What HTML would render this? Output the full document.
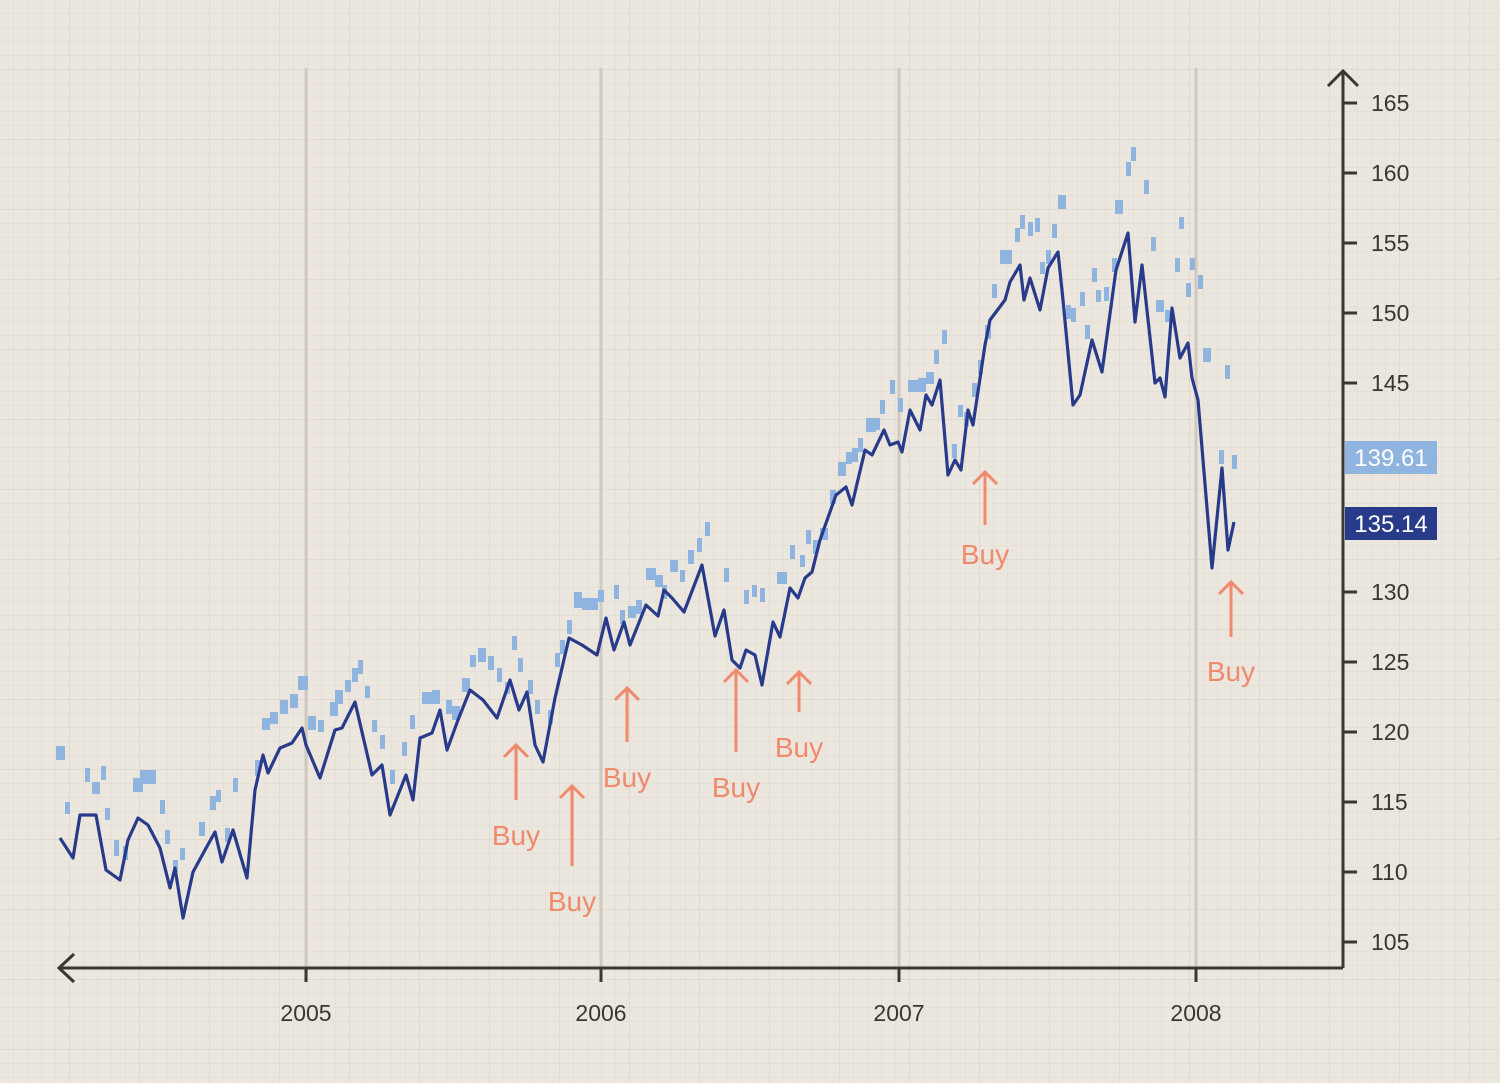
<!DOCTYPE html>
<html><head><meta charset="utf-8"><style>
html,body{margin:0;padding:0;background:#ebe6de;}
svg{display:block;}
text{font-family:"Liberation Sans",sans-serif;}
</style></head><body>
<svg width="1500" height="1083" viewBox="0 0 1500 1083" xmlns="http://www.w3.org/2000/svg">
<defs>
<pattern id="g" width="14" height="14" patternUnits="userSpaceOnUse">
<path d="M14 0V14M0 14H14" stroke="#e1dbd1" stroke-width="1" fill="none"/>
</pattern>
<pattern id="G" width="70" height="70" patternUnits="userSpaceOnUse">
<path d="M70 0V70M0 70H70" stroke="#d9d2c7" stroke-width="1.2" fill="none"/>
</pattern>
</defs>
<rect width="1500" height="1083" fill="#ebe6de"/>
<rect width="1500" height="1083" fill="url(#g)"/>
<rect width="1500" height="1083" fill="url(#G)"/>
<g stroke="#cfc9c0" stroke-width="3">
<line x1="306" y1="68" x2="306" y2="968"/><line x1="601" y1="68" x2="601" y2="968"/>
<line x1="899" y1="68" x2="899" y2="968"/><line x1="1196" y1="68" x2="1196" y2="968"/>
</g>
<g fill="#8fb4e0">
<rect x="56" y="746" width="9" height="14"/><rect x="65" y="802" width="5" height="12"/><rect x="85" y="768" width="5" height="14"/><rect x="92" y="782" width="8" height="12"/><rect x="101" y="766" width="5" height="14"/><rect x="105" y="808" width="5" height="12"/><rect x="114" y="840" width="5" height="16"/><rect x="123" y="846" width="5" height="14"/><rect x="133" y="778" width="10" height="14"/><rect x="140" y="770" width="16" height="14"/><rect x="150" y="772" width="6" height="10"/><rect x="160" y="800" width="5" height="14"/><rect x="165" y="830" width="5" height="14"/><rect x="173" y="860" width="5" height="12"/><rect x="180" y="848" width="5" height="12"/><rect x="199" y="822" width="6" height="14"/><rect x="210" y="796" width="6" height="14"/><rect x="216" y="790" width="5" height="12"/><rect x="225" y="828" width="5" height="14"/><rect x="233" y="778" width="5" height="14"/><rect x="255" y="760" width="5" height="16"/><rect x="262" y="718" width="8" height="12"/><rect x="270" y="712" width="8" height="12"/><rect x="280" y="700" width="8" height="14"/><rect x="290" y="694" width="8" height="14"/><rect x="298" y="676" width="10" height="14"/><rect x="308" y="716" width="8" height="14"/><rect x="318" y="720" width="6" height="12"/><rect x="330" y="702" width="8" height="14"/><rect x="335" y="690" width="8" height="14"/><rect x="345" y="680" width="6" height="12"/><rect x="352" y="668" width="6" height="14"/><rect x="358" y="660" width="5" height="14"/><rect x="365" y="686" width="5" height="12"/><rect x="372" y="720" width="5" height="12"/><rect x="380" y="735" width="5" height="14"/><rect x="390" y="770" width="5" height="14"/><rect x="402" y="742" width="5" height="14"/><rect x="410" y="715" width="5" height="14"/><rect x="422" y="692" width="10" height="12"/><rect x="432" y="690" width="8" height="14"/><rect x="446" y="700" width="6" height="14"/><rect x="452" y="706" width="8" height="14"/><rect x="462" y="678" width="8" height="14"/><rect x="470" y="655" width="6" height="12"/><rect x="478" y="648" width="8" height="14"/><rect x="488" y="656" width="6" height="14"/><rect x="497" y="668" width="5" height="14"/><rect x="505" y="682" width="5" height="12"/><rect x="512" y="636" width="5" height="14"/><rect x="518" y="658" width="5" height="14"/><rect x="528" y="680" width="5" height="14"/><rect x="535" y="700" width="5" height="14"/><rect x="548" y="710" width="5" height="14"/><rect x="555" y="653" width="5" height="14"/><rect x="560" y="640" width="5" height="14"/><rect x="567" y="620" width="5" height="14"/><rect x="574" y="592" width="8" height="16"/><rect x="582" y="598" width="16" height="12"/><rect x="598" y="590" width="6" height="12"/><rect x="614" y="585" width="5" height="14"/><rect x="620" y="610" width="5" height="14"/><rect x="628" y="606" width="8" height="12"/><rect x="636" y="600" width="6" height="14"/><rect x="646" y="568" width="10" height="12"/><rect x="655" y="575" width="8" height="12"/><rect x="662" y="585" width="5" height="14"/><rect x="670" y="560" width="8" height="12"/><rect x="680" y="570" width="5" height="12"/><rect x="688" y="550" width="6" height="14"/><rect x="697" y="538" width="5" height="14"/><rect x="705" y="522" width="5" height="14"/><rect x="724" y="568" width="5" height="14"/><rect x="744" y="590" width="5" height="14"/><rect x="752" y="585" width="5" height="12"/><rect x="760" y="588" width="5" height="14"/><rect x="777" y="572" width="10" height="12"/><rect x="790" y="545" width="5" height="14"/><rect x="800" y="555" width="5" height="12"/><rect x="806" y="530" width="5" height="14"/><rect x="813" y="540" width="5" height="14"/><rect x="820" y="528" width="8" height="12"/><rect x="830" y="490" width="6" height="14"/><rect x="838" y="462" width="8" height="14"/><rect x="846" y="452" width="6" height="12"/><rect x="852" y="448" width="6" height="14"/><rect x="858" y="438" width="5" height="14"/><rect x="866" y="418" width="10" height="14"/><rect x="874" y="418" width="6" height="12"/><rect x="880" y="400" width="5" height="14"/><rect x="890" y="380" width="5" height="14"/><rect x="898" y="398" width="5" height="14"/><rect x="908" y="380" width="10" height="12"/><rect x="918" y="378" width="8" height="14"/><rect x="926" y="372" width="8" height="12"/><rect x="934" y="350" width="5" height="14"/><rect x="942" y="330" width="5" height="14"/><rect x="952" y="444" width="5" height="14"/><rect x="958" y="405" width="5" height="12"/><rect x="964" y="412" width="5" height="14"/><rect x="972" y="383" width="5" height="14"/><rect x="978" y="360" width="5" height="14"/><rect x="985" y="325" width="6" height="14"/><rect x="992" y="284" width="5" height="14"/><rect x="1000" y="250" width="12" height="14"/><rect x="1015" y="228" width="5" height="14"/><rect x="1020" y="215" width="5" height="14"/><rect x="1028" y="222" width="5" height="14"/><rect x="1035" y="218" width="5" height="14"/><rect x="1040" y="262" width="5" height="12"/><rect x="1046" y="250" width="5" height="14"/><rect x="1052" y="224" width="5" height="14"/><rect x="1058" y="195" width="8" height="14"/><rect x="1066" y="305" width="5" height="14"/><rect x="1071" y="308" width="5" height="14"/><rect x="1080" y="292" width="5" height="14"/><rect x="1085" y="325" width="5" height="14"/><rect x="1092" y="268" width="5" height="14"/><rect x="1096" y="290" width="5" height="12"/><rect x="1104" y="287" width="5" height="14"/><rect x="1112" y="258" width="5" height="14"/><rect x="1115" y="200" width="8" height="14"/><rect x="1126" y="162" width="5" height="14"/><rect x="1131" y="147" width="5" height="14"/><rect x="1144" y="180" width="5" height="14"/><rect x="1151" y="237" width="5" height="14"/><rect x="1156" y="300" width="8" height="12"/><rect x="1165" y="310" width="5" height="12"/><rect x="1175" y="258" width="5" height="14"/><rect x="1179" y="217" width="5" height="12"/><rect x="1186" y="283" width="5" height="14"/><rect x="1190" y="258" width="5" height="12"/><rect x="1198" y="275" width="5" height="14"/><rect x="1203" y="348" width="8" height="14"/><rect x="1225" y="365" width="5" height="14"/><rect x="1219" y="450" width="5" height="14"/><rect x="1232" y="455" width="5" height="14"/>
</g>
<polyline fill="none" stroke="#283a8a" stroke-width="3.2" stroke-linejoin="round" points="60,838 73,858 80,815 88,815 96,815 106,870 120,880 128,840 138,818 148,825 160,848 170,888 175,868 183,918 193,872 205,850 215,832 222,862 233,830 247,878 255,790 263,755 268,773 280,748 292,743 302,728 306,745 320,778 335,730 342,728 355,702 372,775 382,765 390,815 406,775 413,800 420,738 432,733 440,710 447,750 458,720 470,690 483,700 497,718 510,680 519,710 527,692 535,745 543,762 555,698 569,638 582,645 597,655 606,618 614,650 624,622 630,645 646,605 658,616 664,590 672,598 684,612 702,565 715,636 724,610 732,660 740,668 746,650 755,655 762,685 773,622 780,637 790,588 798,598 805,578 812,572 820,540 836,495 846,487 852,505 865,450 872,455 884,430 890,445 898,442 902,452 910,410 920,430 926,395 932,405 940,380 948,475 955,460 961,470 968,410 973,425 985,345 990,320 1005,300 1010,282 1020,265 1024,300 1030,278 1040,310 1048,268 1058,252 1063,300 1073,405 1080,395 1092,340 1102,372 1116,270 1128,233 1135,322 1142,265 1155,383 1160,378 1165,397 1172,308 1180,358 1188,343 1192,378 1198,400 1212,568 1222,468 1228,550 1234,522"/>
<g stroke="#f08a6c" stroke-width="3" fill="none">
<path d="M516,800V745M504,757L516,745L528,757"/>
<path d="M572,866V786M560,798L572,786L584,798"/>
<path d="M627,742V688M615,700L627,688L639,700"/>
<path d="M736,752V670M724,682L736,670L748,682"/>
<path d="M799,712V672M787,684L799,672L811,684"/>
<path d="M985,525V472M973,484L985,472L997,484"/>
<path d="M1231,637V582M1219,594L1231,582L1243,594"/>
</g>
<g fill="#f08a6c" font-size="28" text-anchor="middle">
<text x="516" y="845">Buy</text><text x="572" y="911">Buy</text><text x="627" y="787">Buy</text>
<text x="736" y="797">Buy</text><text x="799" y="757">Buy</text><text x="985" y="564">Buy</text><text x="1231" y="681">Buy</text>
</g>
<g stroke="#3a3632" stroke-width="3" fill="none">
<line x1="60" y1="968" x2="1343" y2="968"/>
<path d="M74,954L59,968L74,982"/>
<line x1="1343" y1="72" x2="1343" y2="968"/>
<path d="M1328,86L1343,71L1358,86"/>
</g>
<g stroke="#3a3632" stroke-width="3">
<line x1="1343" y1="103" x2="1357" y2="103"/><line x1="1343" y1="173" x2="1357" y2="173"/><line x1="1343" y1="243" x2="1357" y2="243"/><line x1="1343" y1="313" x2="1357" y2="313"/><line x1="1343" y1="383" x2="1357" y2="383"/><line x1="1343" y1="592" x2="1357" y2="592"/><line x1="1343" y1="662" x2="1357" y2="662"/><line x1="1343" y1="732" x2="1357" y2="732"/><line x1="1343" y1="802" x2="1357" y2="802"/><line x1="1343" y1="872" x2="1357" y2="872"/><line x1="1343" y1="942" x2="1357" y2="942"/>
<line x1="306" y1="968" x2="306" y2="982"/><line x1="601" y1="968" x2="601" y2="982"/><line x1="899" y1="968" x2="899" y2="982"/><line x1="1196" y1="968" x2="1196" y2="982"/>
</g>
<g fill="#3a3632" font-size="23">
<text x="1371" y="111">165</text><text x="1371" y="181">160</text><text x="1371" y="251">155</text><text x="1371" y="321">150</text><text x="1371" y="391">145</text><text x="1371" y="600">130</text><text x="1371" y="670">125</text><text x="1371" y="740">120</text><text x="1371" y="810">115</text><text x="1371" y="880">110</text><text x="1371" y="950">105</text>
</g>
<g fill="#3a3632" font-size="23" text-anchor="middle">
<text x="306" y="1021">2005</text><text x="601" y="1021">2006</text><text x="899" y="1021">2007</text><text x="1196" y="1021">2008</text>
</g>
<rect x="1345" y="441" width="92" height="33" fill="#8fb4e0"/>
<text x="1391" y="466" fill="#fff" font-size="24" text-anchor="middle">139.61</text>
<rect x="1345" y="507" width="92" height="33" fill="#283a8a"/>
<text x="1391" y="532" fill="#fff" font-size="24" text-anchor="middle">135.14</text>
</svg>
</body></html>
